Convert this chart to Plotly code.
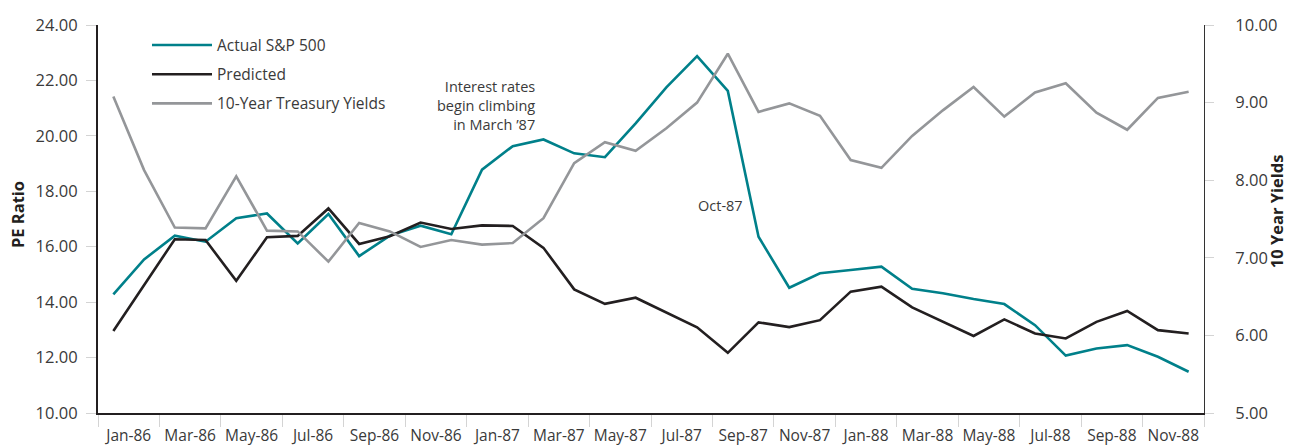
import plotly.graph_objects as go

months = ["Jan-86", "Feb-86", "Mar-86", "Apr-86", "May-86", "Jun-86", "Jul-86", "Aug-86",
          "Sep-86", "Oct-86", "Nov-86", "Dec-86", "Jan-87", "Feb-87", "Mar-87", "Apr-87",
          "May-87", "Jun-87", "Jul-87", "Aug-87", "Sep-87", "Oct-87", "Nov-87", "Dec-87",
          "Jan-88", "Feb-88", "Mar-88", "Apr-88", "May-88", "Jun-88", "Jul-88", "Aug-88",
          "Sep-88", "Oct-88", "Nov-88", "Dec-88"]

actual_sp500 = [14.28, 15.54, 16.40, 16.18, 17.03, 17.20, 16.12, 17.18, 15.66, 16.40,
                16.76, 16.45, 18.78, 19.63, 19.87, 19.37, 19.23, 20.45, 21.75, 22.88,
                21.62, 16.36, 14.52, 15.04, 15.16, 15.28, 14.48, 14.32, 14.11, 13.93,
                13.17, 12.07, 12.33, 12.45, 12.03, 11.49]

predicted = [12.96, 14.62, 16.27, 16.24, 14.77, 16.34, 16.39, 17.38, 16.10, 16.38,
             16.87, 16.64, 16.77, 16.75, 15.96, 14.46, 13.94, 14.16, 13.62, 13.09,
             12.17, 13.27, 13.10, 13.35, 14.38, 14.56, 13.81, 13.30, 12.78, 13.38,
             12.87, 12.69, 13.29, 13.68, 12.99, 12.87]

treasury_10y = [9.08, 8.13, 7.39, 7.38, 8.05, 7.35, 7.34, 6.95, 7.45, 7.34,
                7.14, 7.23, 7.17, 7.19, 7.51, 8.22, 8.49, 8.38, 8.67, 9.00,
                9.63, 8.88, 8.99, 8.83, 8.26, 8.16, 8.57, 8.90, 9.20, 8.82,
                9.13, 9.25, 8.87, 8.65, 9.06, 9.14]

pe_ticks = [10, 12, 14, 16, 18, 20, 22, 24]
yield_ticks = [5, 6, 7, 8, 9, 10]

x_idx = list(range(len(months)))
label_pos = [i + 0.5 for i in range(0, len(months), 2)]
label_text = [months[i] for i in range(0, len(months), 2)]
boundary_pos = [i - 0.5 for i in range(0, len(months) + 1, 2)]

FONT = "Open Sans"
TXT = "#3a3a3a"
TEAL = "#00808a"
BLACK = "#231f20"
GRAY = "#949699"
LIGHT = "#d4d4d4"

fig = go.Figure()
fig.add_trace(go.Scatter(x=x_idx, y=actual_sp500, name="Actual S&P 500", mode="lines",
                         line=dict(color=TEAL, width=2.6), legendgroup="a",
                         xaxis="x", yaxis="y"))
fig.add_trace(go.Scatter(x=x_idx, y=predicted, name="Predicted", mode="lines",
                         line=dict(color=BLACK, width=2.6), legendgroup="b",
                         xaxis="x", yaxis="y"))
fig.add_trace(go.Scatter(x=x_idx, y=treasury_10y, name="10-Year Treasury Yields", mode="lines",
                         line=dict(color=GRAY, width=2.6), legendgroup="c",
                         xaxis="x2", yaxis="y2"))

xr = [-0.5, len(months) - 0.5]

fig.update_layout(
    width=1295, height=446,
    margin=dict(l=98, r=91, t=25, b=33, autoexpand=False),
    plot_bgcolor="white", paper_bgcolor="white",
    font=dict(family=FONT, size=16, color=TXT),
    showlegend=True,
    legend=dict(x=0.0443, y=0.991, xanchor="left", yanchor="top",
                bgcolor="rgba(0,0,0,0)", font=dict(size=15.5, color=TXT),
                tracegroupgap=6, itemwidth=60),
    xaxis=dict(range=xr, tickmode="array", tickvals=boundary_pos, showticklabels=False,
               ticks="outside", ticklen=12, tickcolor=LIGHT, tickwidth=1, automargin=False,
               showgrid=False, zeroline=False, showline=True, linecolor=BLACK, linewidth=2),
    xaxis2=dict(range=xr, overlaying="x", anchor="y", side="bottom", automargin=False,
                tickmode="array", tickvals=label_pos, ticktext=label_text,
                ticks="outside", ticklen=8, tickcolor="rgba(0,0,0,0)",
                tickfont=dict(size=15.5, color=TXT),
                showgrid=False, zeroline=False, showline=False),
    yaxis=dict(range=[10, 24], tickmode="array", tickvals=pe_ticks,
               ticktext=[f"{v:.2f}" for v in pe_ticks], automargin=False,
               ticks="outside", ticklen=10, tickcolor=LIGHT, ticklabelstandoff=5,
               tickfont=dict(size=16.5, color=TXT),
               showgrid=False, zeroline=False, showline=True, linecolor=BLACK, linewidth=2),
    yaxis2=dict(range=[5, 10], overlaying="y", side="right", anchor="x", automargin=False,
                tickmode="array", tickvals=yield_ticks,
                ticktext=[f"{v:.2f}" for v in yield_ticks],
                ticks="outside", ticklen=9, tickcolor=LIGHT, ticklabelstandoff=18,
                tickfont=dict(size=16.5, color=TXT),
                showgrid=False, zeroline=False, showline=True, linecolor="#333333", linewidth=1),
    yaxis3=dict(range=[5, 10], overlaying="y", side="right", anchor="x", automargin=False,
                tickmode="array", tickvals=yield_ticks, showticklabels=False,
                ticks="inside", ticklen=9, tickcolor=LIGHT,
                showgrid=False, zeroline=False, showline=False),
    yaxis4=dict(range=[10, 24], overlaying="y", side="left", anchor="x", automargin=False,
                tickmode="array", tickvals=[24], showticklabels=False,
                showgrid=True, gridcolor=LIGHT, gridwidth=1, zeroline=False, showline=False),
)

# axis titles
fig.add_annotation(x=0, y=0.51, xref="paper", yref="paper", xshift=-81,
                   text="<b>PE Ratio</b>", textangle=-90, showarrow=False,
                   xanchor="center", yanchor="middle",
                   font=dict(size=16.5, color=BLACK, family=FONT))
fig.add_annotation(x=1, y=0.52, xref="paper", yref="paper", xshift=72,
                   text="<b>10 Year Yields</b>", textangle=-90, showarrow=False,
                   xanchor="center", yanchor="middle",
                   font=dict(size=16.5, color=BLACK, family=FONT))

fig.add_annotation(x=13.78, y=21.11, xref="x", yref="y",
                   text="Interest rates<br>begin climbing<br>in March \u201987",
                   showarrow=False, xanchor="right", yanchor="middle", align="right",
                   font=dict(size=14.5, color=TXT, family=FONT))
fig.add_annotation(x=19.75, y=17.5, xref="x", yref="y", text="Oct-87",
                   showarrow=False, xanchor="center", yanchor="middle",
                   font=dict(size=14.5, color=TXT, family=FONT))

fig.write_html("out.html", config={"displayModeBar": False},
               post_script="document.body.style.margin='0';document.body.style.padding='0';")
